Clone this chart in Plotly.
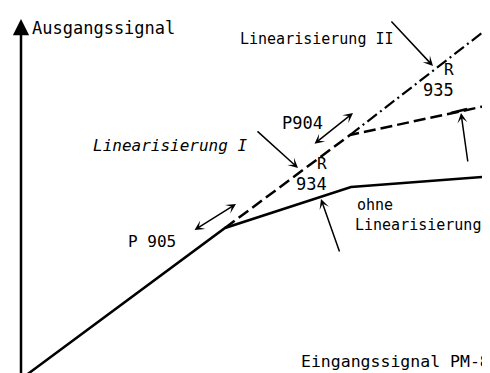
import plotly.graph_objects as go

# Kennlinien (Eingang -> Ausgang), willkuerliche Einheiten
ohne_x = [0, 204, 330, 474]
ohne_y = [0, 151, 192, 203]

lin1_x = [204, 329, 469]
lin1_y = [151, 244, 274]

lin2_x = [329, 466]
lin2_y = [244, 350]

FONT = "DejaVu Sans Mono"


def txt(x, y, s, size=16, anchor="left", italic=False):
    return dict(
        x=x, y=y, xref="x", yref="y", text=s, showarrow=False,
        xanchor=anchor, yanchor="middle",
        font=dict(family=FONT, size=size, color="black",
                  style="italic" if italic else "normal"),
    )


def arrow(x, y, ax, ay, width=1.5, size=1.1, both=False, head=3):
    return dict(
        x=x, y=y, ax=ax, ay=ay, xref="x", yref="y", axref="x", ayref="y",
        text="", showarrow=True, arrowhead=head, arrowsize=size,
        arrowwidth=width, arrowcolor="black", standoff=0, startstandoff=0,
        arrowside="end+start" if both else "end", startarrowhead=head,
        startarrowsize=size,
    )


fig = go.Figure()
fig.add_trace(go.Scatter(x=ohne_x, y=ohne_y, mode="lines",
                         line=dict(color="black", width=2.5)))
fig.add_trace(go.Scatter(x=lin1_x, y=lin1_y, mode="lines",
                         line=dict(color="black", width=2.5, dash="12px,5px")))
fig.add_trace(go.Scatter(x=lin2_x, y=lin2_y, mode="lines",
                         line=dict(color="black", width=2.2,
                                   dash="12px,4px,2px,4px")))
# Anschlag am Pfeil rechts
fig.add_trace(go.Scatter(x=[430, 446], y=[266, 270], mode="lines",
                         line=dict(color="black", width=2.5)))

annotations = [
    # Achsen
    arrow(0, 360, 0, -2, width=2.5, size=1.3, head=2),
    arrow(475, 0, -13, 0, width=2, size=1.3, head=2),
    # Beschriftungen
    txt(9, 351, "Ausgangssignal", 17),
    txt(471, 18, "Eingangssignal PM-8", 16.5, anchor="right"),
    txt(217, 340, "Linearisierung II", 15),
    txt(70, 234, "Linearisierung I", 16, italic=True),
    txt(259, 256, "P904", 17),
    txt(105, 138, "P 905", 16),
    txt(308, 216, "R", 16, anchor="right"),
    txt(308, 195, "934", 17, anchor="right"),
    txt(435, 310, "R", 16, anchor="right"),
    txt(435, 289, "935", 17, anchor="right"),
    txt(334, 174, "ohne", 15),
    txt(332, 154, "Linearisierung", 15),
    # Pfeile
    arrow(277, 211, 235, 249),
    arrow(412, 313, 369, 359),
    arrow(332, 266, 292, 234, width=1.5, both=True),
    arrow(215, 175, 172, 148, width=1.5, both=True),
    arrow(300, 180, 319, 126),
    arrow(440, 266, 447, 216),
]

fig.update_layout(
    width=490,
    height=373,
    plot_bgcolor="white",
    paper_bgcolor="white",
    showlegend=False,
    margin=dict(l=0, r=0, t=0, b=0, pad=0),
    xaxis=dict(range=[-13, 477], visible=False, fixedrange=True),
    yaxis=dict(range=[-2, 371], visible=False, fixedrange=True),
    annotations=annotations,
)

fig.write_html("out.html")
